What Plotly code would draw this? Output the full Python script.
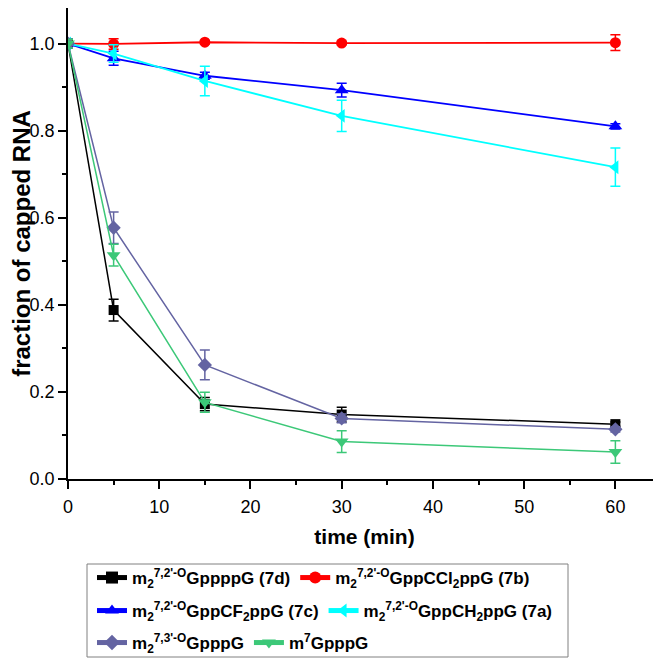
import plotly.graph_objects as go

time = [0, 5, 15, 30, 60]

names = [
    "m<sub>2</sub><sup>7,2'-O</sup>GppppG (7d)",
    "m<sub>2</sub><sup>7,2'-O</sup>GppCCl<sub>2</sub>ppG (7b)",
    "m<sub>2</sub><sup>7,2'-O</sup>GppCF<sub>2</sub>ppG (7c)",
    "m<sub>2</sub><sup>7,2'-O</sup>GppCH<sub>2</sub>ppG (7a)",
    "m<sub>2</sub><sup>7,3'-O</sup>GpppG",
    "m<sup>7</sup>GpppG",
]

y_7d = [1.0, 0.388, 0.172, 0.148, 0.126]
e_7d = [0.01, 0.025, 0.015, 0.017, 0.005]

y_7b = [1.0, 0.999, 1.003, 1.001, 1.002]
e_7b = [0.01, 0.012, 0.004, 0.004, 0.018]

y_7c = [1.0, 0.966, 0.926, 0.893, 0.81]
e_7c = [0.01, 0.016, 0.008, 0.016, 0.006]

y_7a = [1.0, 0.977, 0.914, 0.834, 0.716]
e_7a = [0.01, 0.02, 0.034, 0.036, 0.044]

y_3o = [1.0, 0.577, 0.262, 0.139, 0.114]
e_3o = [0.01, 0.036, 0.034, 0.01, 0.006]

y_m7 = [1.0, 0.514, 0.176, 0.086, 0.062]
e_m7 = [0.01, 0.025, 0.023, 0.025, 0.026]

series = [y_7d, y_7b, y_7c, y_7a, y_3o, y_m7]
errors = [e_7d, e_7b, e_7c, e_7a, e_3o, e_m7]
colors = ["#000000", "#FF0000", "#0000FF", "#00FFFF", "#6464A2", "#3CC878"]
symbols = ["square", "circle", "triangle-up", "triangle-left", "diamond", "triangle-down"]
sizes = [10, 11, 12, 12, 11, 12]
widths = [1.5, 1.8, 1.8, 1.8, 1.5, 1.5]
legends = ["legend", "legend", "legend2", "legend2", "legend3", "legend3"]

fig = go.Figure()
for name, ys, es, c, s, sz, w, lg in zip(names, series, errors, colors, symbols, sizes, widths, legends):
    fig.add_trace(go.Scatter(
        x=time, y=ys, name=name, mode="lines+markers",
        line=dict(color=c, width=w),
        marker=dict(color=c, symbol=s, size=sz, line=dict(width=0)),
        error_y=dict(type="data", array=es, visible=True, color=c, thickness=1.5, width=5),
        legend=lg,
    ))

# page is offset by the 8px body margin; figure sized to fit the window
OFF = 8
W, H = 653, 651
ml, mr, mt, mb = 60, 0, 0, 180
pw = W - ml - mr
ph = H - mt - mb

def px(x):
    # page pixel x -> paper
    return (x - OFF - ml) / pw

def py(y):
    return (mt + ph - (y - OFF)) / ph

def cx(x):
    return (x - OFF) / W

def cy(y):
    return (H - (y - OFF)) / H

leg_font = dict(family="Liberation Sans, Arial", size=17, color="black", weight="bold")
common = dict(orientation="h", xanchor="left", yanchor="middle", bgcolor="rgba(0,0,0,0)",
              xref="container", yref="container",
              font=leg_font, itemsizing="constant", tracegroupgap=0, itemwidth=30)

fig.update_layout(
    width=W, height=H,
    margin=dict(l=ml, r=mr, t=mt, b=mb, autoexpand=False),
    paper_bgcolor="white", plot_bgcolor="white",
    font=dict(family="Liberation Sans, Arial", color="black"),
    xaxis=dict(
        range=[0, 65.0], tickvals=[0, 10, 20, 30, 40, 50, 60], automargin=False,
        showline=True, linecolor="black", linewidth=1.5,
        ticks="outside", ticklen=8, tickwidth=1.5, tickcolor="black",
        minor=dict(tickvals=[5, 15, 25, 35, 45, 55], ticks="outside", ticklen=4, tickwidth=1.5, tickcolor="black"),
        showgrid=False, zeroline=False, ticklabelstandoff=3,
        tickfont=dict(size=18),
        title=dict(text="time (min)", font=dict(size=21, weight="bold"), standoff=13),
    ),
    yaxis=dict(
        range=[0, 1.0816], tickvals=[0, 0.2, 0.4, 0.6, 0.8, 1.0], tickformat=".1f", automargin=False,
        showline=True, linecolor="black", linewidth=1.5,
        ticks="outside", ticklen=8, tickwidth=1.5, tickcolor="black",
        minor=dict(tickvals=[0.1, 0.3, 0.5, 0.7, 0.9], ticks="outside", ticklen=4, tickwidth=1.5, tickcolor="black"),
        showgrid=False, zeroline=False,
        tickfont=dict(size=18),
        title=dict(text="fraction of capped RNA", font=dict(size=24, weight="bold"), standoff=2),
    ),
    legend=dict(x=cx(92), y=cy(578), **common),
    legend2=dict(x=cx(92), y=cy(611), **common),
    legend3=dict(x=cx(92), y=cy(643), **common),
    showlegend=True,
    shapes=[dict(type="rect", xref="paper", yref="paper",
                 x0=px(87), x1=px(568), y0=py(657), y1=py(564),
                 line=dict(color="#808080", width=1), fillcolor="rgba(0,0,0,0)")],
)

fig.write_html("out.html")
